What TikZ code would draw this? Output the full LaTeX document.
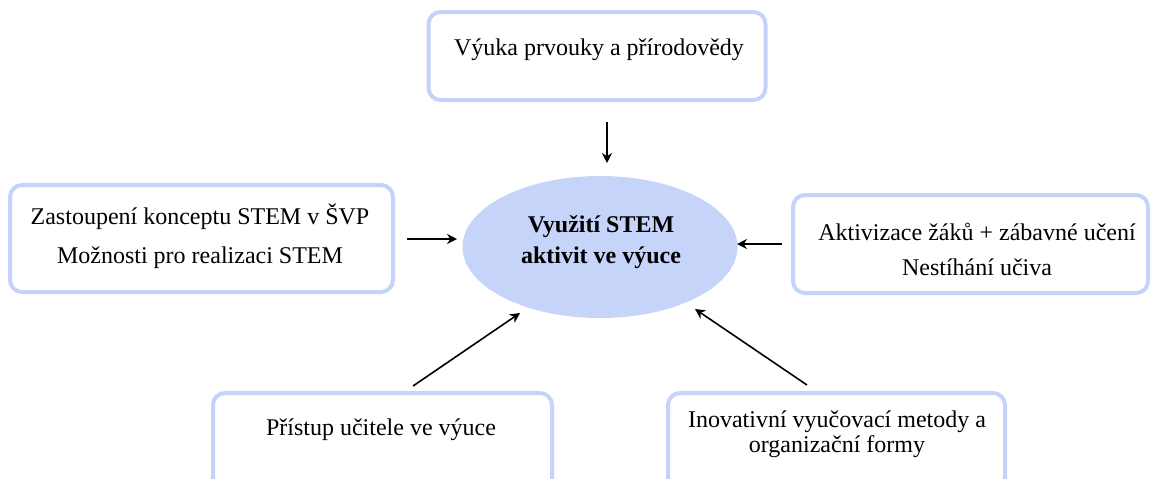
\documentclass[tikz,border=0pt]{standalone}
\usepackage{fontspec}
\setmainfont{Liberation Serif}
\usetikzlibrary{shapes.geometric,arrows.meta}
\definecolor{boxblue}{RGB}{196,211,250}
\definecolor{ellblue}{RGB}{198,212,250}
\tikzset{
  box/.style={draw=boxblue, line width=2pt, rounded corners=6pt, fill=white, inner sep=0pt},
  txt/.style={font=\fontsize{12}{14}\selectfont, inner sep=0pt, anchor=center},
  btxt/.style={font=\fontsize{12}{14}\selectfont\bfseries, inner sep=0pt, anchor=center},
  arr/.style={-{Stealth[length=5pt,width=5pt]}, line width=0.8pt},
}
\begin{document}
\begin{tikzpicture}[x=0.5pt,y=-0.5pt]
\useasboundingbox (0,0) rectangle (1151,478);
\clip (0,0) rectangle (1151,478);
% boxes
\node[box, minimum width=168.5pt, minimum height=44pt] (top) at (597,56) {};
\node[box, minimum width=191.5pt, minimum height=53.5pt] (left) at (201.5,238.5) {};
\node[box, minimum width=177.5pt, minimum height=49pt] (right) at (970.5,244) {};
\node[box, minimum width=169.5pt, minimum height=50pt] (bl) at (382.5,443) {};
\node[box, minimum width=168.5pt, minimum height=50pt] (br) at (836.5,443) {};
\node[ellipse, fill=ellblue, minimum width=137.5pt, minimum height=71pt, inner sep=0pt] (ell) at (600,247) {};
% texts
\node[txt] (ttop) at (599,50) {Výuka prvouky a přírodovědy};
\node[txt] (tl1) at (200,217) {Zastoupení konceptu STEM v ŠVP};
\node[txt] (tl2) at (200,258) {Možnosti pro realizaci STEM};
\node[txt] (tr1) at (977,232) {Aktivizace žáků + zábavné učení};
\node[txt] (tr2) at (977,267) {Nestíhání učiva};
\node[txt] (tbl) at (381,430) {Přístup učitele ve výuce};
\node[txt] (tbr1) at (837,422) {Inovativní vyučovací metody a};
\node[txt] (tbr2) at (837,447) {organizační formy};
\node[btxt] (te1) at (601,227) {Využití STEM};
\node[btxt] (te2) at (601,258) {aktivit ve výuce};
% arrow ends
\coordinate (a1s) at (607,122); \coordinate (a1e) at (607,163);
\coordinate (a2s) at (407,239); \coordinate (a2e) at (457,239);
\coordinate (a3s) at (782,244); \coordinate (a3e) at (737,244);
\coordinate (a4s) at (413,386); \coordinate (a4e) at (520,313);
\coordinate (a5s) at (807,385); \coordinate (a5e) at (695,309);
\draw[arr] (a1s) -- (a1e);
\draw[arr] (a2s) -- (a2e);
\draw[arr] (a3s) -- (a3e);
\draw[arr] (a4s) -- (a4e);
\draw[arr] (a5s) -- (a5e);
\end{tikzpicture}
\end{document}
